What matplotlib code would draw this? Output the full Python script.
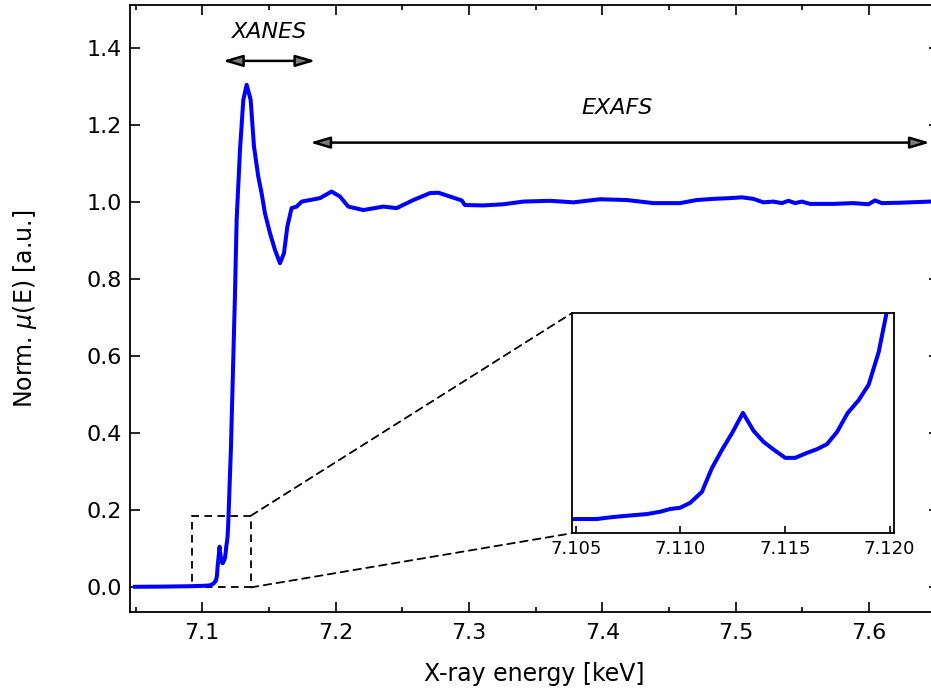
import numpy as np
import matplotlib.pyplot as plt
from matplotlib.patches import Rectangle, ConnectionPatch
from matplotlib.ticker import MultipleLocator

# Fe K-edge XAS spectrum, normalised
energy = [7.0495, 7.06, 7.07, 7.08, 7.09, 7.096, 7.1, 7.103,
          7.1050, 7.1060, 7.10664, 7.10744, 7.1084, 7.10903, 7.10951, 7.10999,
          7.11047, 7.11103, 7.1115, 7.11198, 7.11246, 7.11299, 7.1135, 7.11398,
          7.11445, 7.11501, 7.11549, 7.11605, 7.11653, 7.11701, 7.11749, 7.118,
          7.11852, 7.119, 7.11948, 7.1198,
          7.1215, 7.1245, 7.1258, 7.1283, 7.1308, 7.1333, 7.1363, 7.1388,
          7.142, 7.1445, 7.147, 7.1508, 7.1545, 7.1583, 7.1613, 7.1638,
          7.167, 7.1708, 7.1746, 7.1808, 7.1883, 7.197, 7.2033, 7.2095,
          7.2208, 7.2358, 7.2458, 7.2583, 7.2708, 7.2771, 7.2858, 7.2946,
          7.297, 7.3108, 7.3258, 7.3408, 7.3608, 7.3783, 7.3983, 7.4183,
          7.4383, 7.4583, 7.4708, 7.4833, 7.4958, 7.5046, 7.5133, 7.5208,
          7.5283, 7.5346, 7.5396, 7.5446, 7.5496, 7.5558, 7.5733, 7.5883,
          7.5996, 7.6045, 7.6096, 7.6233, 7.6458, 7.653]
mu = [0.0015, 0.0018, 0.002, 0.0025, 0.003, 0.0035, 0.004, 0.0045,
      0.005, 0.005, 0.0066, 0.0081, 0.0097, 0.0119, 0.0145, 0.0157,
      0.0204, 0.0308, 0.053, 0.0703, 0.0861, 0.1056, 0.0885, 0.0781,
      0.0709, 0.063, 0.063, 0.0677, 0.0712, 0.076, 0.0876, 0.1056,
      0.1176, 0.1324, 0.1633, 0.1949,
      0.36, 0.754, 0.954, 1.135, 1.265, 1.304, 1.265, 1.144,
      1.066, 1.023, 0.971, 0.919, 0.876, 0.841, 0.867, 0.936,
      0.984, 0.988, 1.001, 1.005, 1.01, 1.027, 1.014, 0.988,
      0.979, 0.988, 0.984, 1.005, 1.023, 1.024, 1.014, 1.004,
      0.992, 0.991, 0.994, 1.001, 1.003, 0.999, 1.007, 1.005,
      0.997, 0.997, 1.005, 1.008, 1.01, 1.012, 1.008, 0.999,
      1.001, 0.997, 1.003, 0.997, 1.001, 0.995, 0.995, 0.997,
      0.994, 1.004, 0.997, 0.998, 1.001, 1.0]

# zoom box drawn on the main axes
box_x = [7.0925, 7.1365]
box_y = [0.0, 0.186]

# arrows (start, end) in keV
xanes_range = [7.1153, 7.185]
exafs_range = [7.1808, 7.6458]

blue = '#0000ff'
plt.rcParams['font.family'] = 'DejaVu Sans'

fig = plt.figure(figsize=(9.31, 6.95), dpi=100)
ax = fig.add_axes([0.1396, 0.1199, 0.8690, 0.8729])

ax.plot(energy, mu, color=blue, lw=2.9, solid_joinstyle='round')
ax.set_xlim(7.0458, 7.6525)
ax.set_ylim(-0.063, 1.511)

ax.xaxis.set_major_locator(MultipleLocator(0.1))
ax.xaxis.set_minor_locator(MultipleLocator(0.05))
ax.yaxis.set_major_locator(MultipleLocator(0.2))
ax.tick_params(which='both', direction='in', top=True, right=True, labelsize=16, width=1.2)
ax.tick_params(which='major', length=7.2)
ax.tick_params(which='minor', length=3.6)
ax.tick_params(axis='x', pad=8)
ax.tick_params(axis='y', pad=6)
for s in ax.spines.values():
    s.set_linewidth(1.3)

ax.set_xlabel('X-ray energy [keV]', fontsize=17, labelpad=14)
ax.set_ylabel(r'Norm. $\mu$(E) [a.u.]', fontsize=17, labelpad=34)

# dashed zoom box
dash = (0, (4.2, 3.0))
ax.add_patch(Rectangle((box_x[0], box_y[0]), box_x[1] - box_x[0], box_y[1] - box_y[0],
                       fill=False, ls=dash, lw=1.3, ec='black'))

# region arrows
arrow_kw = dict(arrowstyle='<|-|>,head_length=0.85,head_width=0.25', mutation_scale=14,
                fc='#7a7a7a', ec='black', lw=1.8, shrinkA=0, shrinkB=0)
ax.annotate('', xy=(xanes_range[1], 1.366), xytext=(xanes_range[0], 1.366),
            arrowprops=arrow_kw)
ax.annotate('', xy=(exafs_range[1], 1.154), xytext=(exafs_range[0], 1.154),
            arrowprops=arrow_kw)
ax.text(np.mean(xanes_range), 1.44, 'XANES', style='italic', fontsize=16,
        ha='center', va='center')
ax.text(7.411, 1.245, 'EXAFS', style='italic', fontsize=16,
        ha='center', va='center')

# inset
axins = fig.add_axes([0.614, 0.2327, 0.346, 0.3165])
axins.plot(energy, mu, color=blue, lw=2.9, solid_joinstyle='round')
axins.set_xlim(7.1048, 7.1202)
axins.set_ylim(-0.0085, 0.2)
axins.set_xticks([7.105, 7.110, 7.115, 7.120])
axins.set_xticklabels(['7.105', '7.110', '7.115', '7.120'])
axins.set_yticks([])
axins.tick_params(axis='x', direction='in', length=5, width=1.2, labelsize=13, pad=5)
for s in axins.spines.values():
    s.set_linewidth(1.3)

for yb, ya in [(box_y[1], 1), (box_y[0], 0)]:
    con = ConnectionPatch(xyA=(box_x[1], yb), coordsA=ax.transData,
                          xyB=(0, ya), coordsB=axins.transAxes,
                          ls=dash, lw=1.3, color='black')
    fig.add_artist(con)

fig.savefig('out.png', dpi=100)
